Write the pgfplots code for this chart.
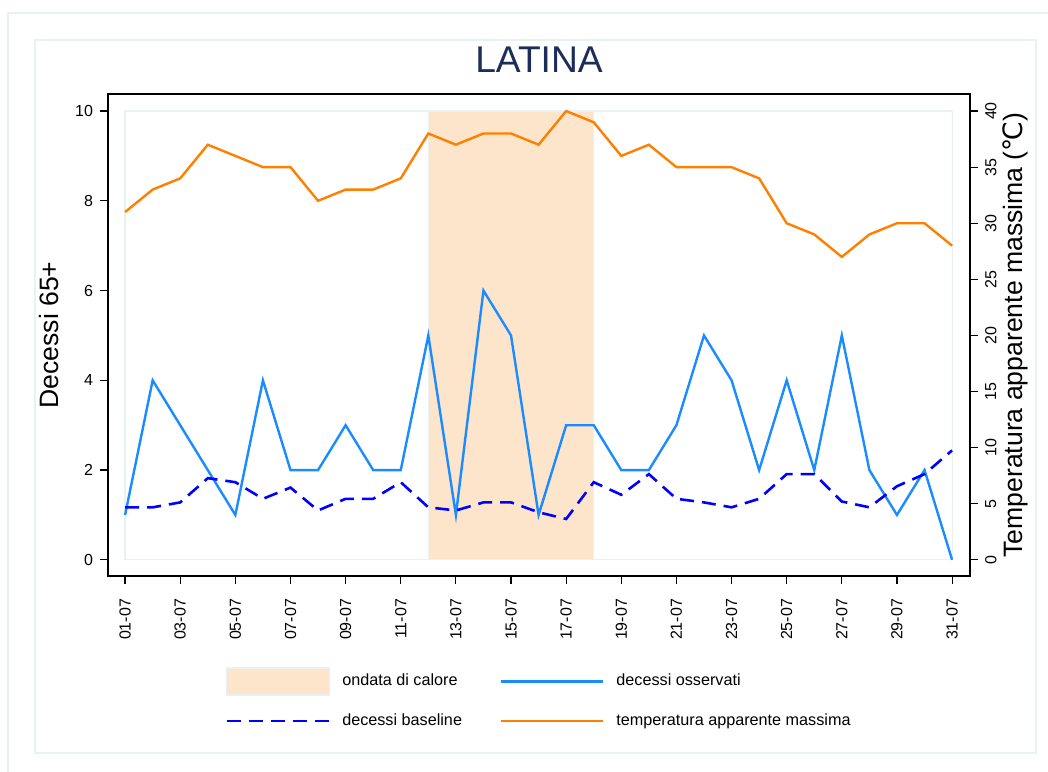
\documentclass[border=0pt]{standalone}
\usepackage{fontspec}
\setmainfont{Liberation Sans}
\newfontfamily\dejavu{DejaVu Sans}
\usepackage{pgfplots}
\usepackage{pgfplotstable}
\pgfplotsset{compat=1.18}

\definecolor{heat}{HTML}{FDE5CB}
\definecolor{obs}{HTML}{1A8CFF}
\definecolor{base}{HTML}{0000FF}
\definecolor{temp}{HTML}{FF8000}
\definecolor{framec}{HTML}{EAF1F3}
\definecolor{titlec}{HTML}{1C2D5A}

% day, observed deaths, baseline deaths, max apparent temperature
\pgfplotstableread{
day obs base temp
1 1 1.17 31
2 4 1.17 33
3 3 1.28 34
4 2 1.82 37
5 1 1.73 36
6 4 1.36 35
7 2 1.61 35
8 2 1.10 32
9 3 1.36 33
10 2 1.36 33
11 2 1.73 34
12 5 1.17 38
13 1 1.10 37
14 6 1.28 38
15 5 1.28 38
16 1 1.06 37
17 3 0.91 40
18 3 1.73 39
19 2 1.45 36
20 2 1.91 37
21 3 1.36 35
22 5 1.28 35
23 4 1.17 35
24 2 1.36 34
25 4 1.91 30
26 2 1.91 29
27 5 1.30 27
28 2 1.17 29
29 1 1.64 30
30 2 1.91 30
31 0 2.44 28
}\data

\pgfplotsset{
  common/.style={
    at={(54pt,97.5pt)}, anchor=south west,
    scale only axis, width=431pt, height=241pt,
    xmin=0.38, xmax=31.65,
    tick align=outside, major tick length=4pt,
    tick style={black, line width=0.6pt},
    axis line style={black, line width=0.7pt},
    ticklabel style={font=\fontsize{8}{9.6}\selectfont},
    label style={font=\fontsize{13.3}{16}\selectfont},
    /pgf/number format/assume math mode=true,
  },
}

\begin{document}
\begin{tikzpicture}
\useasboundingbox (0,0) rectangle (524pt,385.5pt);
\draw[framec, line width=0.8pt] (4pt,-20pt) -- (4pt,379pt) -- (560pt,379pt);
\draw[framec, line width=0.8pt] (17.5pt,9pt) rectangle (518pt,365.5pt);
\node[font=\fontsize{18.6}{22}\selectfont, text=titlec, anchor=base] at (269.5pt,349pt) {LATINA};

\begin{axis}[
  common,
  ymin=-0.36, ymax=10.38,
  xtick={1,3,...,31},
  xticklabels={01-07,03-07,05-07,07-07,09-07,11-07,13-07,15-07,17-07,19-07,21-07,23-07,25-07,27-07,29-07,31-07},
  xtick pos=lower, ytick pos=left,
  xticklabel style={rotate=90, anchor=east},
  xticklabel shift=4pt,
  ytick={0,2,...,10},
  ylabel={Decessi 65+},
  ylabel style={at={(axis description cs:-0.058,0.5)}, anchor=base},
]
\draw[framec, line width=0.6pt] (axis cs:1,0) rectangle (axis cs:31,10);
\addplot[fill=heat, draw=framec, line width=0.6pt] coordinates {(12,0) (12,10) (18,10) (18,0)} -- cycle;
\addplot[obs, line width=1.2pt, mark=none] table[x=day, y=obs] {\data};
\addplot[base, line width=1.3pt, dash pattern=on 7pt off 4pt, mark=none] table[x=day, y=base] {\data};
\end{axis}

\begin{axis}[
  common,
  ymin=-1.44, ymax=41.52,
  axis x line=none,
  axis y line*=right,
  ytick={0,5,...,40},
  yticklabel style={rotate=90, anchor=north},
  ylabel={Temperatura apparente massima ({\dejavu ℃})},
  ylabel style={at={(axis description cs:1.0603,0.5)}, anchor=base},
  legend columns=2,
  legend cell align=left,
  legend style={draw=none, fill=none, inner sep=0pt,
    at={(0.1357,-0.1888)}, anchor=north west,
    font=\fontsize{8.1}{9.7}\selectfont,
    row sep=7pt,
    /tikz/every odd column/.append style={column sep=4pt},
    /tikz/every even column/.append style={column sep=17pt}},
  legend image code/.code={\draw[#1] (0pt,0pt) -- (51pt,0pt);},
]
\addlegendimage{fill=heat, draw=framec, line width=0.6pt,
  legend image code/.code={\draw[##1] (0pt,-6.75pt) rectangle (51.5pt,6.75pt);}}
\addlegendimage{obs, line width=1.2pt}
\addlegendimage{base, line width=1.3pt, dash pattern=on 7pt off 4pt}
\addplot[temp, line width=1.2pt, mark=none] table[x=day, y=temp] {\data};
\legend{ondata di calore, decessi osservati, decessi baseline, temperatura apparente massima}
\end{axis}
\end{tikzpicture}
\end{document}
